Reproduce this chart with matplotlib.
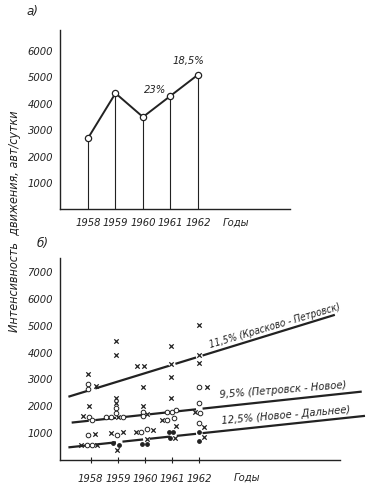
import numpy as np
import matplotlib
matplotlib.use("Agg")
import matplotlib.pyplot as plt

plt.rcParams['font.family'] = ['DejaVu Sans']
plt.rcParams['font.style'] = 'italic'
plt.rcParams['font.stretch'] = 'condensed'

INK = '#222222'

# panel a) - daily traffic volume by year
years = [1958, 1959, 1960, 1961, 1962]
traffic = [2700, 4400, 3500, 4300, 5100]
growth_labels = ['23%', '18,5%']
growth_pos = [(1960.45, 4350), (1961.65, 5450)]

# panel б) - observations per road section
cross_x = [1957.91, 1958.18, 1957.95, 1957.73, 1958.16, 1957.63, 1958.25,
           1958.93, 1958.93, 1958.93, 1958.93, 1959.02, 1958.74, 1959.18, 1958.96,
           1959.69, 1959.96, 1959.94, 1959.94, 1960.09, 1959.67, 1960.28, 1960.06,
           1960.96, 1960.96, 1960.96, 1960.96, 1960.61, 1961.14, 1961.10,
           1962.0, 1962.0, 1962.0, 1962.27, 1961.84, 1962.17, 1962.17]
cross_y = [3200, 2760, 2020, 1650, 980, 570, 570,
           4440, 3910, 2300, 2120, 1600, 1030, 1040, 380,
           3500, 3500, 2710, 2020, 1720, 1040, 1130, 780,
           4260, 3580, 3100, 2300, 1500, 1270, 820,
           5020, 3910, 3600, 2710, 1810, 1220, 880]
circle_x = [1957.91, 1957.91, 1957.95, 1958.06, 1957.91, 1957.88, 1958.04,
            1958.93, 1958.93, 1958.56, 1958.75, 1959.20, 1958.96,
            1959.94, 1959.94, 1959.87, 1960.06,
            1960.80, 1960.98, 1961.13, 1960.80, 1961.07,
            1962.0, 1962.0, 1962.02, 1962.0]
circle_y = [2850, 2650, 1600, 1500, 940, 570, 570,
            1930, 1770, 1600, 1600, 1600, 940,
            1810, 1660, 1040, 1150,
            1810, 1810, 1870, 1500, 1560,
            2710, 2120, 1770, 1370]
dot_x = [1958.83, 1959.03, 1959.88, 1960.09, 1960.90, 1961.04, 1960.92, 1962.0, 1962.0]
dot_y = [630, 570, 610, 610, 1060, 1060, 820, 1060, 730]

# hand-drawn trend lines: start/end (year, volume) and where they break
trend_labels = ['11,5% (Красково - Петровск)', '9,5% (Петровск - Новое)',
                '12,5% (Новое - Дальнее)']
trend_x = [(1957.18, 1966.99), (1957.30, 1967.98), (1957.18, 1968.10)]
trend_y = [(2360, 5400), (1400, 2550), (480, 1650)]
trend_gaps = [[1958.05, 1961.0, 1962.0],
              [1958.05, 1959.05, 1960.05, 1961.05, 1962.0],
              [1958.05, 1959.05, 1960.05, 1961.05, 1962.0]]
label_pos = [(1962.4, 4150), (1962.76, 2330), (1962.83, 1360)]
label_rot = [16.5, 4.5, 5]
label_size = [7.2, 8, 8]

fig = plt.figure(figsize=(3.74, 4.93), dpi=100)

def style_axes(ax):
    for s in ['top', 'right']:
        ax.spines[s].set_visible(False)
    for s in ['left', 'bottom']:
        ax.spines[s].set_color(INK)
        ax.spines[s].set_linewidth(1.0)
    ax.tick_params(colors=INK, labelsize=8)

# ---- a)
ax1 = fig.add_axes([0.1604, 0.5753, 0.615, 0.3638])
style_axes(ax1)
ax1.set_xlim(1956.98, 1965.35)
ax1.set_ylim(0, 6795)
ax1.vlines(years, 0, traffic, color=INK, lw=0.8)
ax1.plot(years, traffic, color=INK, lw=1.4, marker='o', ms=4.5,
         mfc='white', mec=INK, mew=0.9, zorder=3)
for t, (x, y) in zip(growth_labels, growth_pos):
    ax1.text(x, y, t, ha='center', va='bottom', fontsize=8, color=INK)
ax1.set_xticks(years)
ax1.set_xticklabels([str(y) for y in years])
ax1.set_yticks(range(1000, 7000, 1000))
ax1.tick_params(axis='both', length=0)
ax1.tick_params(axis='x', pad=6)
ax1.tick_params(axis='y', pad=5)
ax1.text(1963.38, -0.072, 'Годы', transform=ax1.get_xaxis_transform(),
         ha='center', va='center', fontsize=8, color=INK)
fig.text(32 / 374, 1 - 12 / 493, 'а)', ha='center', va='center', fontsize=9.5, color=INK)

# ---- б)
ax2 = fig.add_axes([0.1604, 0.0663, 0.7487, 0.4104])
style_axes(ax2)
ax2.set_xlim(1956.87, 1967.18)
ax2.set_ylim(0, 7510)

for (x0, x1), (y0, y1), gaps in zip(trend_x, trend_y, trend_gaps):
    edges = [x0]
    for g in gaps:
        edges += [g - 0.12, g + 0.12]
    edges.append(x1)
    for a, b in zip(edges[0::2], edges[1::2]):
        xs = np.array([a, b])
        ys = y0 + (xs - x0) * (y1 - y0) / (x1 - x0)
        ax2.plot(xs, ys, color=INK, lw=1.6, solid_capstyle='butt', clip_on=False)

ax2.scatter(cross_x, cross_y, marker='x', s=10, color=INK, linewidths=0.9, zorder=3)
ax2.scatter(circle_x, circle_y, marker='o', s=11, facecolors='white',
            edgecolors=INK, linewidths=0.7, zorder=3)
ax2.scatter(dot_x, dot_y, marker='o', s=6, color=INK, zorder=3)

for t, (x, y), r, fs in zip(trend_labels, label_pos, label_rot, label_size):
    ax2.text(x, y, t, ha='left', va='baseline', rotation=r, rotation_mode='anchor',
             fontsize=fs, color=INK)

ax2.set_xticks(years)
ax2.set_xticklabels([str(y) for y in years])
ax2.set_yticks(range(1000, 8000, 1000))
ax2.tick_params(axis='x', direction='inout', length=4, width=0.8, pad=8)
ax2.tick_params(axis='y', length=0, pad=5)
ax2.text(1963.75, -0.084, 'Годы', transform=ax2.get_xaxis_transform(),
         ha='center', va='center', fontsize=8, color=INK)
fig.text(43 / 374, 1 - 243 / 493, 'б)', ha='center', va='center', fontsize=9.5, color=INK)

fig.text(15 / 374, 1 - 221 / 493, 'Интенсивность  движения, авт/сутки',
         rotation=90, ha='center', va='center', fontsize=9, color=INK)

fig.savefig('out.png', dpi=100, facecolor='white')
